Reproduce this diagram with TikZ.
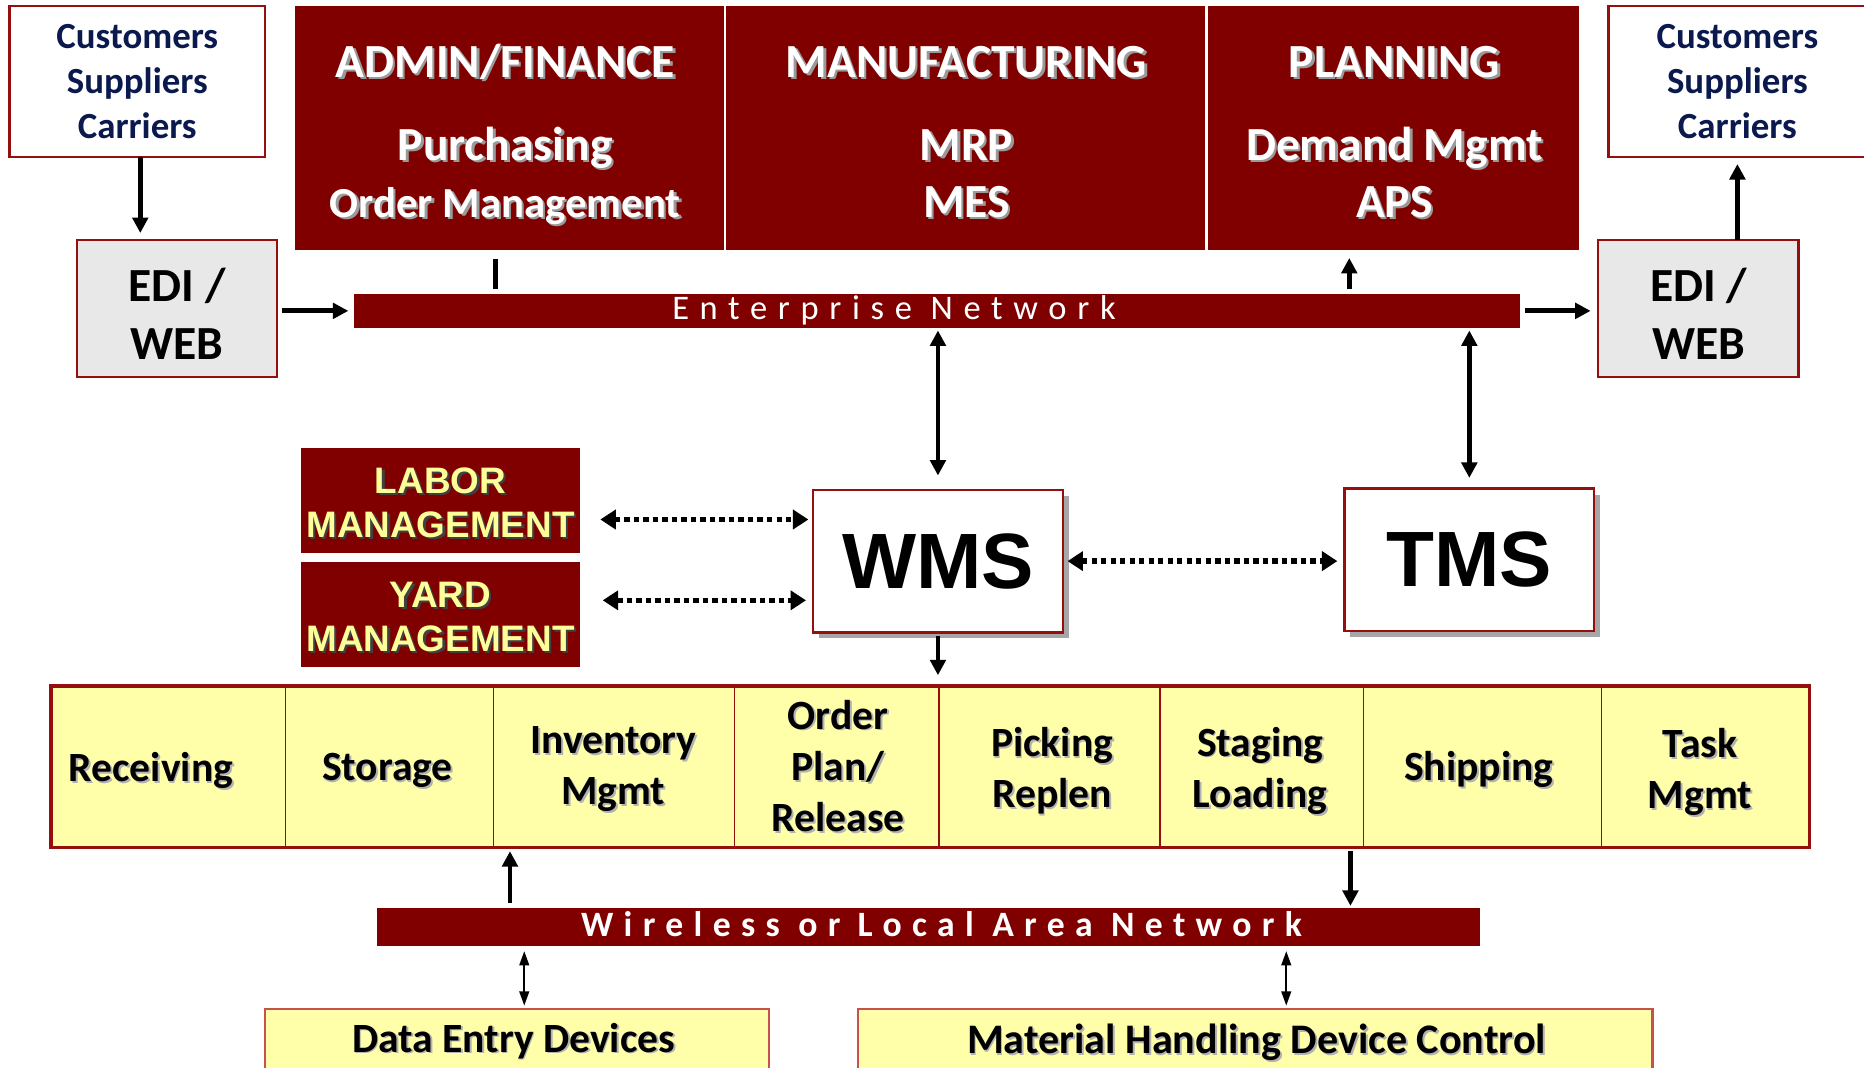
\documentclass[tikz,border=0pt]{standalone}
\usepackage{fontspec}
\setmainfont{Carlito}
\newfontfamily\arialf{Liberation Sans}
\usetikzlibrary{arrows.meta,shadows}
\definecolor{mred}{HTML}{800000}
\definecolor{bcol}{HTML}{960F0F}
\definecolor{navy}{HTML}{0B1A4E}
\definecolor{yfill}{HTML}{FFFFAA}
\definecolor{ytext}{HTML}{FFFF99}
\definecolor{egray}{HTML}{E8E8E8}
\definecolor{lbord}{HTML}{C8504D}
\definecolor{shg}{HTML}{9A9A9A}
\newcommand{\shd}[3][2pt]{\leavevmode\rlap{\kern#1\raisebox{-#1}{\textcolor{#2}{#3}}}#3}
\newcommand{\ws}[1]{\shd{shg}{#1}}
\newcommand{\ys}[1]{\shd{black!75}{#1}}
\newcommand{\bs}[1]{\shd[1.5pt]{black!30}{#1}}
\newcommand{\fs}[2]{\fontsize{#1}{#2}\selectfont}
\begin{document}
\begin{tikzpicture}[x=1pt,y=-1pt,
  box/.style={anchor=north west, inner sep=0pt, outer sep=0pt},
  custbox/.style={box, draw=bcol, line width=2pt, fill=white},
  edibox/.style={box, draw=bcol, line width=2pt, fill=egray},
  mbox/.style={box, fill=mred},
  cell/.style={box, fill=yfill},
  lowbox/.style={box, draw=lbord, line width=2pt, fill=yfill},
  ttl/.style={anchor=base, text=white, font=\bfseries\fs{40}{46}},
  sub/.style={anchor=base, text=white, font=\bfseries\fs{40}{46}},
  ytxt/.style={text=ytext, align=center, font=\arialf\bfseries\fs{31}{37}},
  celltxt/.style={align=center, font=\bfseries\fs{35}{43}},
  arr/.style={line width=4pt, -{Triangle[length=13pt,width=13pt]}},
  darr/.style={line width=4pt, {Triangle[length=13pt,width=13pt]}-{Triangle[length=13pt,width=13pt]}},
  dotarr/.style={line width=4.5pt, dash pattern=on 4.5pt off 3.5pt, {Triangle[length=13pt,width=16pt]}-{Triangle[length=13pt,width=16pt]}},
  tarr/.style={line width=2pt, {Triangle[length=12pt,width=8pt]}-{Triangle[length=12pt,width=8pt]}}
]
\useasboundingbox (0,0) rectangle (1568,898);
\fill[white] (0,0) rectangle (1568,898);

% customers / EDI
\node[custbox, minimum width=215pt, minimum height=127pt, text=navy, align=center, font=\bfseries\fs{31}{38}] (custL) at (8,5) {Customers\\Suppliers\\Carriers};
\node[custbox, minimum width=217pt, minimum height=127pt, text=navy, align=center, font=\bfseries\fs{31}{38}] (custR) at (1353,5) {Customers\\Suppliers\\Carriers};
\node[edibox, minimum width=168pt, minimum height=115pt] (ediL) at (65,202) {};
\node[edibox, minimum width=169pt, minimum height=115pt] (ediR) at (1344,202) {};
\node[align=center, font=\bfseries\fs{40}{48}] (ediLt) at (149,264) {EDI /\\WEB};
\node[align=center, font=\bfseries\fs{40}{48}] (ediRt) at (1429,264) {EDI /\\WEB};

% top block
\node[mbox, minimum width=362pt, minimum height=205pt] (admin) at (248,5) {};
\node[mbox, minimum width=405pt, minimum height=205pt] (manu) at (610,5) {};
\node[mbox, minimum width=313pt, minimum height=205pt] (plan) at (1015,5) {};
\draw[white, line width=2pt] (admin.north east) -- (admin.south east);
\draw[white, line width=2pt] (manu.north east) -- (manu.south east);
\node[ttl] (adminT) at (425,65) {\ws{ADMIN/FINANCE}};
\node[sub] (adminS1) at (425,135) {\ws{Purchasing}};
\node[sub, font=\bfseries\fs{36}{46}] (adminS2) at (425,183) {\ws{Order Management}};
\node[ttl] (manuT) at (813,65) {\ws{MANUFACTURING}};
\node[sub] (manuS1) at (813,135) {\ws{MRP}};
\node[sub] (manuS2) at (813,183) {\ws{MES}};
\node[ttl] (planT) at (1173,65) {\ws{PLANNING}};
\node[sub] (planS1) at (1173,135) {\ws{Demand Mgmt}};
\node[sub] (planS2) at (1173,183) {\ws{APS}};

% enterprise network
\node[mbox, minimum width=981pt, minimum height=29pt] (ent) at (298,247) {};
\node[anchor=base, text=white, font=\fs{29}{30}\addfontfeatures{LetterSpace=31}] (entT) at (752,269) {Enterprise Network};

% labor / yard
\node[mbox, minimum width=235pt, minimum height=88pt] (labor) at (253,377) {};
\node[mbox, minimum width=235pt, minimum height=88pt] (yard) at (253,473) {};
\node[ytxt] (laborT) at (370.5,424) {\ys{LABOR}\\\ys{MANAGEMENT}};
\node[ytxt] (yardT) at (370.5,520) {\ys{YARD}\\\ys{MANAGEMENT}};

% WMS / TMS
\node[custbox, minimum width=210pt, minimum height=120pt, font=\arialf\bfseries\fs{66}{70}, drop shadow={shadow xshift=5pt, shadow yshift=-5pt, fill=black!35, opacity=1}] (wms) at (684,412) {WMS};
\node[custbox, minimum width=210pt, minimum height=120pt, font=\arialf\bfseries\fs{66}{70}, drop shadow={shadow xshift=5pt, shadow yshift=-5pt, fill=black!35, opacity=1}] (tms) at (1131,411) {TMS};

% bottom row
\node[cell, minimum width=197pt, minimum height=136pt] (rec) at (43,577) {};
\node[cell, minimum width=175pt, minimum height=136pt] (sto) at (240,577) {};
\node[cell, minimum width=203pt, minimum height=136pt] (inv) at (415,577) {};
\node[cell, minimum width=172pt, minimum height=136pt] (ord) at (618,577) {};
\node[cell, minimum width=186pt, minimum height=136pt] (pic) at (790,577) {};
\node[cell, minimum width=171pt, minimum height=136pt] (sta) at (976,577) {};
\node[cell, minimum width=200pt, minimum height=136pt] (shi) at (1147,577) {};
\node[cell, minimum width=175pt, minimum height=136pt] (tas) at (1347,577) {};
\foreach \c in {rec,sto,inv,ord,pic,sta,shi}
  \draw[bcol, line width=1.3pt] (\c.north east) -- (\c.south east);
\draw[bcol, line width=3pt] (rec.north west) rectangle (tas.south east);
\node[celltxt] (recT) at (127,649) {\bs{Receiving}};
\node[celltxt] (stoT) at (326,649) {\bs{Storage}};
\node[celltxt] (invT) at (516,648) {\bs{Inventory}\\\bs{Mgmt}};
\node[celltxt] (ordT) at (705,645) {\bs{Order}\\\bs{Plan/}\\\bs{Release}};
\node[celltxt] (picT) at (885,649) {\bs{Picking}\\\bs{Replen}};
\node[celltxt] (staT) at (1060,649) {\bs{Staging}\\\bs{Loading}};
\node[celltxt] (shiT) at (1244,648) {\bs{Shipping}};
\node[celltxt] (tasT) at (1430,650) {\bs{Task}\\\bs{Mgmt}};

% wireless
\node[mbox, minimum width=928pt, minimum height=32pt] (wl) at (317,764) {};
\node[anchor=base, text=white, font=\bfseries\fs{30}{30}\addfontfeatures{LetterSpace=29}] (wlT) at (792,788) {Wireless or\kern-1pt{} Local Area Network};

% lower boxes
\node[lowbox, minimum width=424pt, minimum height=70pt] (de) at (223,849) {};
\node[font=\bfseries\fs{35}{40}, anchor=base] (deT) at (432,885) {\bs{Data Entry Devices}};
\node[lowbox, minimum width=668pt, minimum height=70pt] (mat) at (722,849) {};
\node[font=\bfseries\fs{35.4}{40}, anchor=base] (matT) at (1057,886) {\bs{Material Handling Device Control}};

% connectors
\coordinate (a1) at ([xshift=2.5pt]custL.south);
\draw[arr, shorten >=6pt] (a1) -- (a1 |- ediL.north);
\draw[arr, shorten <=4pt, shorten >=5pt] (ediL.east |- ent.west) -- (ent.west);
\draw[arr, shorten <=4pt, shorten >=6pt] (ent.east) -- (ediR.west |- ent.east);
\draw[arr, shorten >=6pt] (custR.south |- ediR.north) -- (custR.south);
\coordinate (t1) at ([xshift=-12pt,yshift=-8pt]admin.south);
\draw[line width=4pt, shorten >=4pt] (t1) -- (t1 |- ent.north);
\coordinate (t2) at ([xshift=-36.5pt]plan.south);
\draw[arr, shorten <=4pt, shorten >=7pt] (t2 |- ent.north) -- (t2);
\draw[darr, shorten <=2pt, shorten >=12pt] (wms.north |- ent.south) -- (wms.north);
\draw[darr, shorten <=2pt, shorten >=9pt] (tms.north |- ent.south) -- (tms.north);
\coordinate (l1) at ([yshift=-16pt]labor.east);
\draw[dotarr, shorten <=17pt, shorten >=4pt] (l1) -- (l1 -| wms.west);
\coordinate (y1) at ([yshift=12pt]yard.east);
\draw[dotarr, shorten <=19pt, shorten >=6pt] (y1) -- (y1 -| wms.west);
\draw[dotarr, shorten <=4pt, shorten >=6pt] (wms.east) -- (tms.west |- wms.east);
\draw[arr, shorten <=3pt, shorten >=9pt] (wms.south) -- (wms.south |- ord.north);
\coordinate (c1) at ([xshift=14pt]inv.south west);
\draw[arr, shorten <=4pt, shorten >=3pt] (c1 |- wl.north) -- (c1);
\coordinate (c2) at ([xshift=-11pt]sta.south east);
\draw[arr, shorten <=3pt, shorten >=2pt] (c2) -- (c2 |- wl.north);
\coordinate (c3) at ([xshift=6pt]de.north);
\draw[tarr, shorten <=4pt, shorten >=3pt] (c3 |- wl.south) -- (c3);
\coordinate (c4) at ([xshift=26pt]mat.north);
\draw[tarr, shorten <=4pt, shorten >=3pt] (c4 |- wl.south) -- (c4);
\end{tikzpicture}
\end{document}
